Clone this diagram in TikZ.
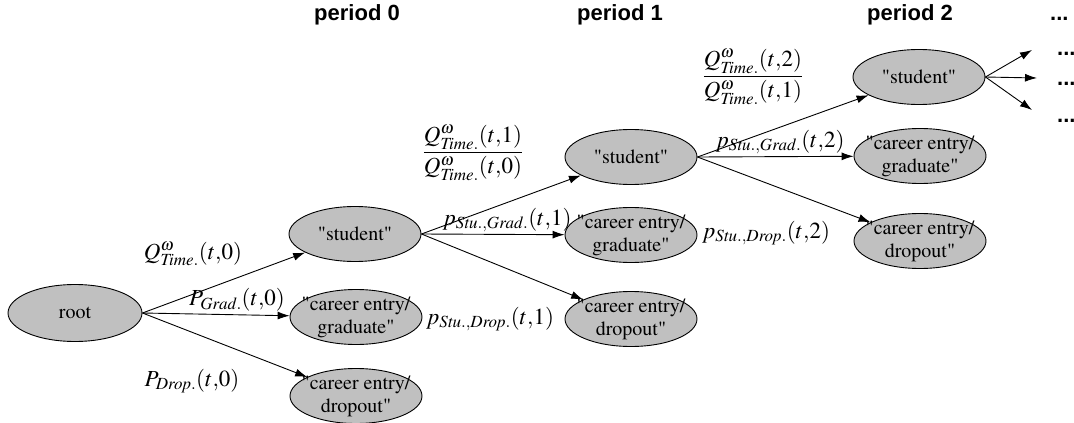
\documentclass[tikz,border=0pt]{standalone}
\usepackage{mathptmx}
\usepackage[T1]{fontenc}
\usepackage{fontspec}
\setmainfont{Liberation Serif}
\setsansfont{Liberation Sans}
\newcommand\nodefont{\usefont{T1}{ptm}{m}{n}}
\newfontfamily\hdrfont{Liberation Sans}
\usetikzlibrary{shapes.geometric,arrows.meta}
\definecolor{nodegray}{RGB}{192,192,192}
\tikzset{
  st/.style={ellipse, draw=black, line width=0.9pt, fill=nodegray,
    minimum width=132pt, minimum height=55pt, inner sep=0pt},
  txt/.style={align=center, inner sep=0pt, font=\fontsize{20}{23}\nodefont},
  arr/.style={line width=0.9pt, -{Latex[length=12pt,width=8pt]}},
  hdr/.style={font=\hdrfont\fontsize{22}{24}\selectfont\bfseries, inner sep=0pt},
  lab/.style={font=\fontsize{23}{26}\selectfont, inner sep=0pt},
}
\begin{document}
\begin{tikzpicture}[x=1pt,y=-1pt]
\useasboundingbox (0,0) rectangle (1074,423);
% headers
\node[hdr, anchor=base] (h0) at (357,20) {period 0};
\node[hdr, anchor=base] (h1) at (620,20) {period 1};
\node[hdr, anchor=base] (h2) at (910,20) {period 2};
\node[hdr, anchor=base west] (h3) at (1050,20) {...};
% nodes
\node[st, minimum width=134pt, minimum height=57pt, label={[txt]center:root}] (root) at (75,313) {};
\node[st, label={[txt]center:"student"}] (s0) at (355,234) {};
\node[st, label={[txt]center:"career entry/\\graduate"}] (g0) at (356,317) {};
\node[st, label={[txt]center:"career entry/\\dropout"}] (d0) at (356,396) {};
\node[st, label={[txt]center:"student"}] (s1) at (631,157) {};
\node[st, label={[txt]center:"career entry/\\graduate"}] (g1) at (631,235) {};
\node[st, label={[txt]center:"career entry/\\dropout"}] (d1) at (631,319) {};
\node[st, label={[txt]center:"student"}] (s2) at (919,77) {};
\node[st, label={[txt]center:"career entry/\\graduate"}] (g2) at (920,156) {};
\node[st, label={[txt]center:"career entry/\\dropout"}] (d2) at (920,241) {};
% free ends
\coordinate (e1) at (1032,50);
\coordinate (e2) at (1037,78);
\coordinate (e3) at (1032,110);
\node[hdr, anchor=base west] (t1) at (1057,55) {...};
\node[hdr, anchor=base west] (t2) at (1057,85) {...};
\node[hdr, anchor=base west] (t3) at (1057,122) {...};
% connectors
\draw[arr] (root.east) -- (s0);
\draw[arr] (root.east) -- (g0);
\draw[arr] (root.east) -- (d0);
\draw[arr] (s0.east) -- (s1);
\draw[arr] (s0.east) -- (g1);
\draw[arr] (s0.east) -- (d1);
\draw[arr] (s1.east) -- (s2);
\draw[arr] (s1.east) -- (g2);
\draw[arr] (s1.east) -- (d2);
\draw[arr] (s2.east) -- (e1);
\draw[arr] (s2.east) -- (e2);
\draw[arr] (s2.east) -- (e3);
% labels
\node[lab] (l0a) at (193,254) {$Q^{\omega}_{\mathit{Time.}}(t{,}0)$};
\node[lab] (l0b) at (237,300) {$P_{\mathit{Grad.}}(t{,}0)$};
\node[lab] (l0c) at (192,381) {$P_{\mathit{Drop.}}(t{,}0)$};
\node[lab] (l1a) at (473,153) {$\displaystyle\frac{Q^{\omega}_{\mathit{Time.}}(t{,}1)}{Q^{\omega}_{\mathit{Time.}}(t{,}0)}$};
\node[lab] (l1b) at (507,220) {$p_{\mathit{Stu.,Grad.}}(t{,}1)$};
\node[lab] (l1c) at (490,319) {$p_{\mathit{Stu.,Drop.}}(t{,}1)$};
\node[lab] (l2a) at (753,77) {$\displaystyle\frac{Q^{\omega}_{\mathit{Time.}}(t{,}2)}{Q^{\omega}_{\mathit{Time.}}(t{,}1)}$};
\node[lab] (l2b) at (780,142) {$p_{\mathit{Stu.,Grad.}}(t{,}2)$};
\node[lab] (l2c) at (766,233) {$p_{\mathit{Stu.,Drop.}}(t{,}2)$};
\end{tikzpicture}
\end{document}
